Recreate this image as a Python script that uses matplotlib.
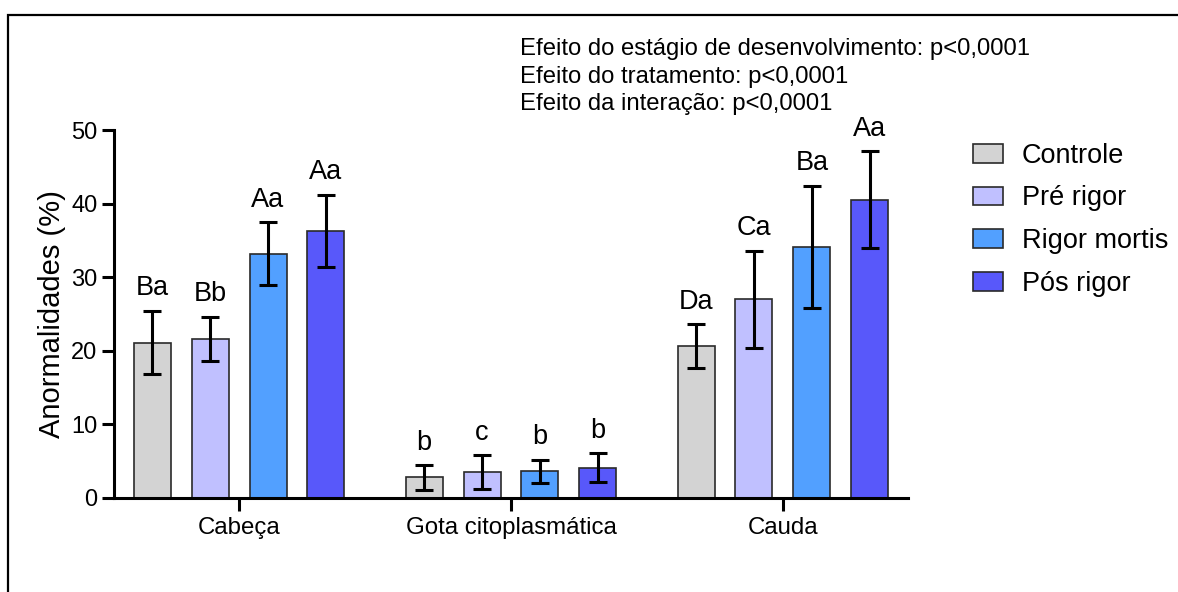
import matplotlib.pyplot as plt
import numpy as np
from matplotlib.patches import Rectangle

plt.rcParams['font.family'] = ['Liberation Sans', 'DejaVu Sans']

# Dados: média e desvio por região e tratamento
categorias = ['Cabeça', 'Gota citoplasmática', 'Cauda']
tratamentos = ['Controle', 'Pré rigor', 'Rigor mortis', 'Pós rigor']
cores = ['#d3d3d3', '#c0c0ff', '#52a0ff', '#5858fa']

controle = [21.1, 2.8, 20.6]
pre_rigor = [21.6, 3.5, 27.0]
rigor_mortis = [33.2, 3.6, 34.1]
pos_rigor = [36.3, 4.1, 40.5]

controle_dp = [4.3, 1.65, 3.0]
pre_rigor_dp = [3.0, 2.3, 6.6]
rigor_mortis_dp = [4.25, 1.6, 8.35]
pos_rigor_dp = [4.9, 1.95, 6.6]

letras = [
    ['Ba', 'b', 'Da'],
    ['Bb', 'c', 'Ca'],
    ['Aa', 'b', 'Ba'],
    ['Aa', 'b', 'Aa'],
]

medias = [controle, pre_rigor, rigor_mortis, pos_rigor]
desvios = [controle_dp, pre_rigor_dp, rigor_mortis_dp, pos_rigor_dp]

fig = plt.figure(figsize=(11.78, 5.92), dpi=100)
ax = fig.add_axes([0.0968, 0.1588, 0.674, 0.6216])

x = np.arange(len(categorias))
passo = 0.213
largura = 0.136

for i, (m, dp, cor, nome) in enumerate(zip(medias, desvios, cores, tratamentos)):
    pos = x + (i - 1.5) * passo
    ax.bar(pos, m, width=largura, color=cor, edgecolor='#2a2a2a',
           linewidth=1.2, label=nome, zorder=2)
    ax.errorbar(pos, m, yerr=dp, fmt='none', ecolor='black',
                elinewidth=2.2, capsize=6.5, capthick=2.2, zorder=3)
    for xi, mi, di, txt in zip(pos, m, dp, letras[i]):
        ax.annotate(txt, (xi, mi + di), xytext=(0, 7),
                    textcoords='offset points', ha='center', va='bottom',
                    fontsize=19.5)

ax.set_xlim(-0.46, 2.46)
ax.set_ylim(0, 50)
ax.set_yticks([0, 10, 20, 30, 40, 50])
ax.set_xticks(x)
ax.set_xticklabels(categorias, fontsize=17.3)
ax.tick_params(axis='y', labelsize=17, length=9, width=2.2, direction='out', pad=3)
ax.tick_params(axis='x', length=9, width=2.2, direction='out', pad=5)
ax.set_ylabel('Anormalidades (%)', fontsize=21, labelpad=4)

for lado in ['top', 'right']:
    ax.spines[lado].set_visible(False)
for lado in ['left', 'bottom']:
    ax.spines[lado].set_linewidth(2.2)

ax.legend(loc='upper left', bbox_to_anchor=(1.068, 0.995), frameon=False,
          fontsize=19.5, handlelength=1.1, handleheight=0.7,
          labelspacing=0.62, handletextpad=0.7, borderaxespad=0)

fig.text(0.4414, 0.935,
         'Efeito do estágio de desenvolvimento: p<0,0001\n'
         'Efeito do tratamento: p<0,0001\n'
         'Efeito da interação: p<0,0001',
         fontsize=17.2, va='top', ha='left', linespacing=1.3)

# moldura ao redor da figura
fig.patches.append(Rectangle((0.0068, -0.05), 1.05, 0.9747 + 0.05,
                             transform=fig.transFigure, fill=False,
                             edgecolor='black', linewidth=1.6))

fig.savefig('out.png', dpi=100, facecolor='white')
